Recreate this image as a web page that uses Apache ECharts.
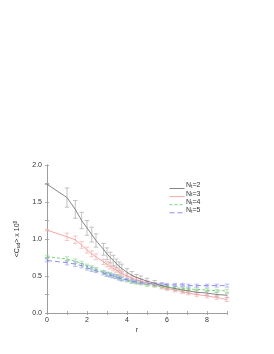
<!DOCTYPE html>
<html><head><meta charset="utf-8">
<script src="https://cdn.jsdelivr.net/npm/echarts@6/dist/echarts.min.js"></script>
<style>html,body{margin:0;padding:0;background:#fff}#c{width:274px;height:354px}</style>
</head><body><div id="c"></div>
<script>
const rValues = [0,1,1.414,1.732,2,2.236,2.449,2.828,3,3.162,3.317,3.464,3.606,3.742,4,4.243,4.472,4.69,5,5.385,5.745,6,6.403,6.782,7.071,7.483,8,8.485,9];
const nt2 = [1.74,1.56,1.40,1.25,1.15,1.06,0.98,0.86,0.80,0.75,0.71,0.67,0.63,0.60,0.55,0.51,0.48,0.46,0.43,0.40,0.37,0.35,0.33,0.31,0.30,0.28,0.27,0.25,0.24];
const nt2Err = [0,0.13,0.12,0.11,0.10,0.10,0.09,0.08,0.08,0.07,0.07,0.06,0.06,0.06,0.05,0.05,0.04,0.04,0.04,0.04,0.03,0.03,0.03,0.03,0.03,0.03,0.03,0.03,0.03];
const nt3 = [1.12,1.03,0.99,0.92,0.85,0.80,0.76,0.69,0.66,0.63,0.60,0.58,0.55,0.53,0.50,0.47,0.45,0.43,0.41,0.38,0.35,0.33,0.31,0.29,0.27,0.25,0.23,0.21,0.18];
const nt3Err = [0.01,0.05,0.05,0.045,0.04,0.04,0.04,0.035,0.035,0.035,0.03,0.03,0.03,0.03,0.03,0.03,0.03,0.03,0.025,0.025,0.025,0.025,0.025,0.025,0.025,0.025,0.025,0.025,0.025];
const nt4 = [0.76,0.73,0.70,0.67,0.63,0.61,0.59,0.55,0.53,0.52,0.50,0.49,0.48,0.46,0.44,0.42,0.41,0.40,0.38,0.37,0.36,0.35,0.34,0.33,0.32,0.32,0.31,0.30,0.30];
const nt4Err = [0.02,0.03,0.03,0.03,0.03,0.03,0.025,0.025,0.025,0.025,0.025,0.025,0.025,0.025,0.02,0.02,0.02,0.02,0.02,0.02,0.02,0.02,0.02,0.02,0.02,0.02,0.02,0.02,0.02];
const nt5 = [0.71,0.68,0.66,0.64,0.61,0.59,0.57,0.54,0.52,0.51,0.50,0.49,0.47,0.46,0.45,0.43,0.42,0.41,0.40,0.39,0.39,0.38,0.38,0.38,0.37,0.37,0.37,0.37,0.37];
const nt5Err = [0.02,0.03,0.03,0.03,0.03,0.03,0.025,0.025,0.025,0.025,0.025,0.025,0.025,0.025,0.02,0.02,0.02,0.02,0.02,0.02,0.02,0.02,0.02,0.02,0.02,0.02,0.02,0.02,0.02];
const ntLabels = ['2','3','4','5'];
const xTicks = [0,2,4,6,8];
const yTicks = [0.0,0.5,1.0,1.5,2.0];

const seriesDefs = [
  {name:ntLabels[0], vals:nt2, err:nt2Err, color:'#666666', ecolor:'#aaaaaa', type:'solid'},
  {name:ntLabels[1], vals:nt3, err:nt3Err, color:'#f29090', ecolor:'#f5b0b0', type:'solid'},
  {name:ntLabels[2], vals:nt4, err:nt4Err, color:'#55cc55', ecolor:'#99dd99', type:[3,2]},
  {name:ntLabels[3], vals:nt5, err:nt5Err, color:'#7070ee', ecolor:'#a0a0f2', type:[5,3]}
];

const chart = echarts.init(document.getElementById('c'), null, {renderer:'canvas'});
const series = [];
seriesDefs.forEach(s => {
  series.push({
    type:'custom', name:'err'+s.name, silent:true, z:1,
    data: rValues.map((r,i)=>[r, s.vals[i]-s.err[i], s.vals[i]+s.err[i]]),
    renderItem:(params, api)=>{
      const lo = api.coord([api.value(0), api.value(1)]);
      const hi = api.coord([api.value(0), api.value(2)]);
      const w = 2.2;
      const st = {stroke:s.ecolor, lineWidth:0.7, fill:null};
      return {type:'group', children:[
        {type:'line', shape:{x1:lo[0],y1:lo[1],x2:hi[0],y2:hi[1]}, style:st},
        {type:'line', shape:{x1:lo[0]-w,y1:lo[1],x2:lo[0]+w,y2:lo[1]}, style:st},
        {type:'line', shape:{x1:hi[0]-w,y1:hi[1],x2:hi[0]+w,y2:hi[1]}, style:st}
      ]};
    }
  });
  series.push({
    type:'line', name:'N_t='+s.name, z:2,
    data: rValues.map((r,i)=>[r, s.vals[i]]),
    showSymbol:false, symbol:'none',
    lineStyle:{color:s.color, width:0.8, type:s.type},
    itemStyle:{color:s.color}
  });
});

const FONT = 'Liberation Sans, Arial, sans-serif';
const labelStyle = {fontFamily:FONT, fontSize:7, color:'#333'};

const legendGraphics = [];
seriesDefs.forEach((s,i)=>{
  const y = 186 + i*8.1;
  legendGraphics.push({type:'line', left:167, top:y, shape:{x1:0,y1:0,x2:15,y2:0},
    style:{stroke:s.color, lineWidth:0.8, lineDash: s.type==='solid'?null:s.type}});
  legendGraphics.push({type:'text', left:186, top:y-4,
    style:{text:'{a|N}{s|t}{a|=' + s.name + '}', fontFamily:FONT, fontSize:7, fill:'#333',
      rich:{a:{fontSize:7, fontFamily:FONT, fill:'#333'}, s:{fontSize:5, fontFamily:FONT, fill:'#333', padding:[3,0,0,0]}}}});
});

chart.setOption({
  animation:false,
  grid:{left:47, top:165, width:180, height:148, containLabel:false},
  graphic: legendGraphics,
  xAxis:[{
    type:'value', min:0, max:9, interval:1,
    axisLine:{show:true, lineStyle:{color:'#999', width:0.8}},
    axisTick:{show:true, inside:true, length:2, lineStyle:{color:'#999', width:0.8}},
    axisLabel:Object.assign({margin:4, formatter:v => xTicks.includes(v)? String(v):''}, labelStyle),
    splitLine:{show:false},
    name:'r', nameLocation:'middle', nameGap:14, nameTextStyle:labelStyle
  },{
    type:'value', min:0, max:9, interval:1, position:'top',
    axisLine:{show:true, lineStyle:{color:'#999', width:0.8}},
    axisTick:{show:true, inside:true, length:2, lineStyle:{color:'#999', width:0.8}},
    axisLabel:{show:false}, splitLine:{show:false}
  }],
  yAxis:[{
    type:'value', min:0, max:2, interval:0.25,
    axisLine:{show:true, lineStyle:{color:'#999', width:0.8}},
    axisTick:{show:true, inside:true, length:2, lineStyle:{color:'#999', width:0.8}},
    axisLabel:Object.assign({margin:5, formatter:v => yTicks.some(t=>Math.abs(t-v)<1e-9)? v.toFixed(1):''}, labelStyle),
    splitLine:{show:false},
    name:'{a|<C}{s|ud}{a|> x 10}{p|8}', nameLocation:'middle', nameGap:20, nameRotate:90,
    nameTextStyle:Object.assign({rich:{a:{fontSize:7,color:'#333'}, s:{fontSize:5,color:'#333',padding:[0,0,-3,0]}, p:{fontSize:5,color:'#333',padding:[0,0,4,0]}}}, labelStyle)
  },{
    type:'value', min:0, max:2, interval:0.25, position:'right',
    axisLine:{show:true, lineStyle:{color:'#999', width:0.8}},
    axisTick:{show:true, inside:true, length:2, lineStyle:{color:'#999', width:0.8}},
    axisLabel:{show:false}, splitLine:{show:false}
  }],
  series: series
});
</script></body></html>
